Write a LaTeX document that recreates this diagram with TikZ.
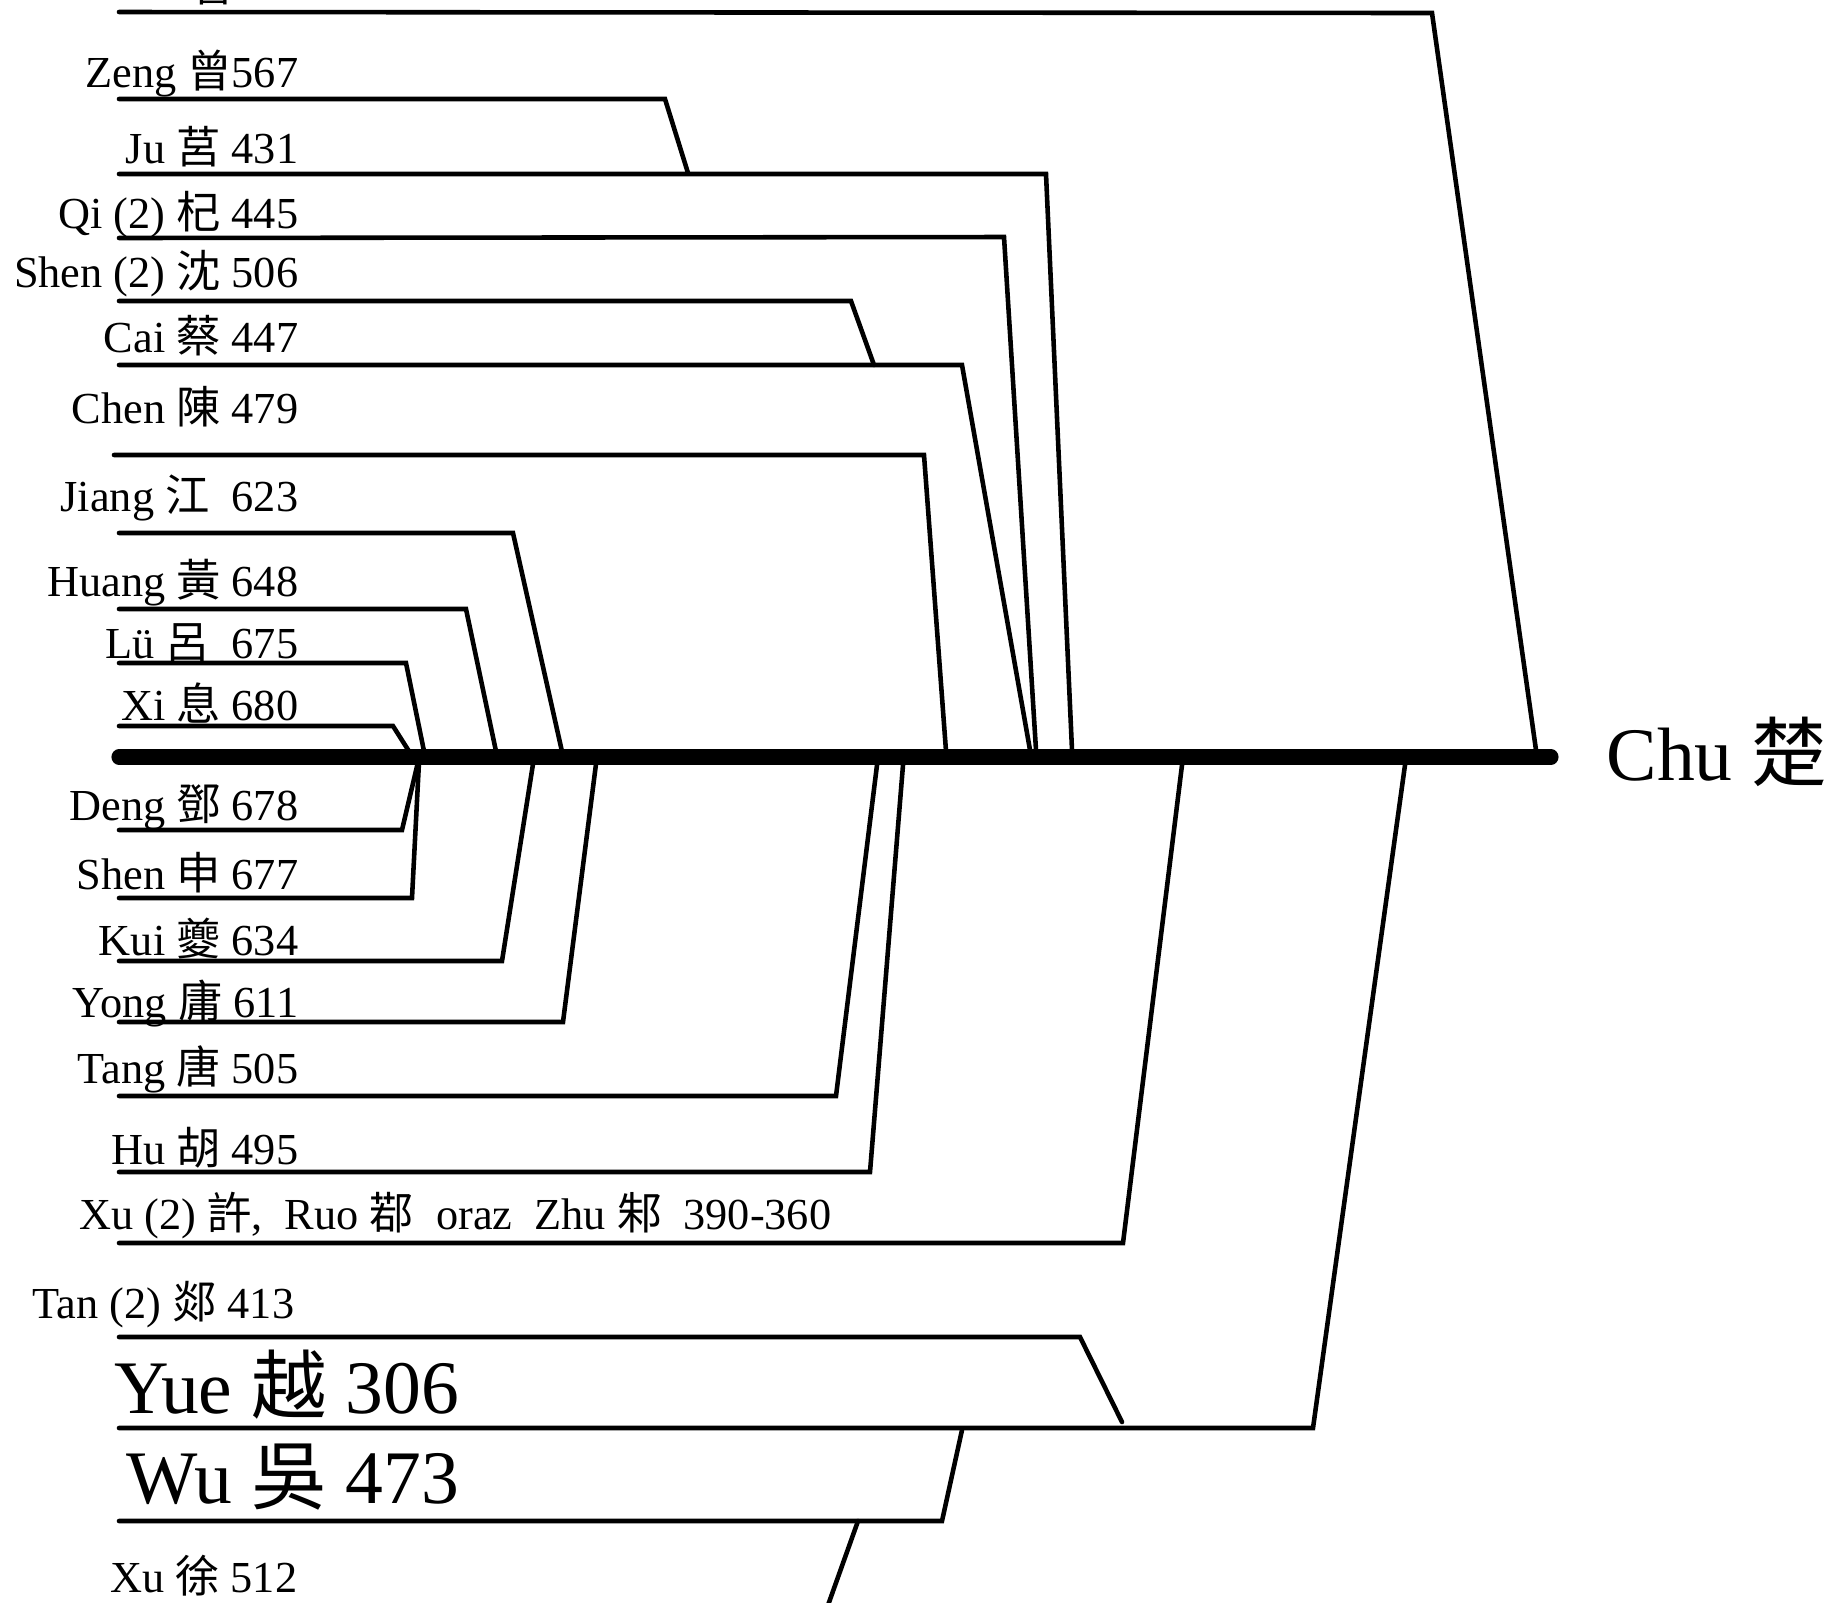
\documentclass[tikz,border=0pt]{standalone}
\usepackage{fontspec}
\setmainfont{Liberation Serif}
\newfontfamily\cjkfont{Noto Sans CJK TC}
\newcommand\zhc[1]{{\cjkfont #1}}
\begin{document}
\begin{tikzpicture}[x=0.01cm,y=-0.01cm,
  branch/.style={line width=1.3pt, line cap=round, line join=miter},
  trunkline/.style={line width=4.3pt, line cap=round},
  lbl/.style={font=\fontsize{12.6}{15}\selectfont, inner sep=0pt, anchor=base east},
  biglbl/.style={font=\fontsize{21.5}{26}\selectfont, inner sep=0pt, anchor=base east}]
\useasboundingbox (0,0) rectangle (1827,1602);
\clip (0,0) rectangle (1827,1602);

% trunk
\coordinate (trL) at (119,757);
\coordinate (trR) at (1551,757);
\draw[trunkline] (trL) -- (trR);
\node[biglbl, anchor=base west] (chu) at (1606,780) {Chu \zhc{楚}};

% labels
\node[lbl, anchor=base west] (frag) at (191,1) {\zhc{魯}};
\node[lbl] (zeng) at (299,87) {Zeng \zhc{曾}567};
\node[lbl] (ju) at (299,163) {Ju \zhc{莒} 431};
\node[lbl] (qi) at (299,228) {Qi (2) \zhc{杞} 445};
\node[lbl] (shenb) at (299,287) {Shen (2) \zhc{沈} 506};
\node[lbl] (cai) at (299,352) {Cai \zhc{蔡} 447};
\node[lbl] (chen) at (299,423) {Chen \zhc{陳} 479};
\node[lbl] (jiang) at (299,511) {Jiang \zhc{江}\ \ 623};
\node[lbl] (huang) at (299,596) {Huang \zhc{黃} 648};
\node[lbl] (lu) at (299,658) {Lü \zhc{呂}\ \ 675};
\node[lbl] (xi) at (299,720) {Xi \zhc{息} 680};
\node[lbl] (deng) at (299,820) {Deng \zhc{鄧} 678};
\node[lbl] (shen) at (299,889) {Shen \zhc{申} 677};
\node[lbl] (kui) at (299,955) {Kui \zhc{夔} 634};
\node[lbl] (yong) at (299,1017) {Yong \zhc{庸} 611};
\node[lbl] (tang) at (299,1083) {Tang \zhc{唐} 505};
\node[lbl] (hu) at (299,1164) {Hu \zhc{胡} 495};
\node[lbl] (xub) at (832,1229) {Xu (2) \zhc{許},\ \ Ruo \zhc{鄀}\ \ oraz\ \ Zhu \zhc{邾}\ \ 390-360};
\node[lbl] (tan) at (295,1318) {Tan (2) \zhc{郯} 413};
\node[biglbl] (yue) at (460,1413) {Yue \zhc{越} 306};
\node[biglbl] (wu) at (460,1503) {Wu \zhc{吳} 473};
\node[lbl] (xu) at (298,1592) {Xu \zhc{徐} 512};

% connector points
\coordinate (topS) at (119,12);   \coordinate (topC) at (1432,13);  \coordinate (topT) at (1536,750);
\coordinate (zengS) at (119,99);  \coordinate (zengC) at (665,99);  \coordinate (zengT) at (688,173);
\coordinate (juS) at (119,174);   \coordinate (juC) at (1046,174);  \coordinate (juT) at (1072,750);
\coordinate (qiS) at (119,238);   \coordinate (qiC) at (1004,237);  \coordinate (qiT) at (1036,750);
\coordinate (shenbS) at (119,301);\coordinate (shenbC) at (851,301);\coordinate (shenbT) at (874,365);
\coordinate (caiS) at (119,365);  \coordinate (caiC) at (962,365);  \coordinate (caiT) at (1030,750);
\coordinate (chenS) at (114,455); \coordinate (chenC) at (924,455); \coordinate (chenT) at (946,751);
\coordinate (jiangS) at (119,533);\coordinate (jiangC) at (513,533);\coordinate (jiangT) at (563,756);
\coordinate (huangS) at (119,609);\coordinate (huangC) at (466,609);\coordinate (huangT) at (497,756);
\coordinate (luS) at (119,663);   \coordinate (luC) at (406,663);   \coordinate (luT) at (425,756);
\coordinate (xiS) at (119,726);   \coordinate (xiC) at (393,726);   \coordinate (xiT) at (412,756);
\coordinate (dengS) at (119,830); \coordinate (dengC) at (402,830); \coordinate (dengT) at (418,762);
\coordinate (shenS) at (119,898); \coordinate (shenC) at (412,898); \coordinate (shenT) at (419,762);
\coordinate (kuiS) at (119,961);  \coordinate (kuiC) at (502,961);  \coordinate (kuiT) at (533,764);
\coordinate (yongS) at (119,1022);\coordinate (yongC) at (563,1022);\coordinate (yongT) at (596,764);
\coordinate (tangS) at (119,1096);\coordinate (tangC) at (836,1096);\coordinate (tangT) at (877,765);
\coordinate (huS) at (119,1172);  \coordinate (huC) at (870,1172);  \coordinate (huT) at (903,765);
\coordinate (xubS) at (119,1243); \coordinate (xubC) at (1123,1243);\coordinate (xubT) at (1182,765);
\coordinate (tanS) at (119,1337); \coordinate (tanC) at (1080,1337);\coordinate (tanT) at (1122,1422);
\coordinate (yueS) at (119,1428); \coordinate (yueC) at (1313,1428);\coordinate (yueT) at (1405,765);
\coordinate (wuS) at (119,1521);  \coordinate (wuC) at (942,1521);  \coordinate (wuT) at (962,1430);
\coordinate (xuT) at (858,1521);  \coordinate (xuE) at (822,1622);

% connectors
\draw[branch] (topS) -- (topC) -- (topT);
\draw[branch] (zengS) -- (zengC) -- (zengT);
\draw[branch] (juS) -- (juC) -- (juT);
\draw[branch] (qiS) -- (qiC) -- (qiT);
\draw[branch] (shenbS) -- (shenbC) -- (shenbT);
\draw[branch] (caiS) -- (caiC) -- (caiT);
\draw[branch] (chenS) -- (chenC) -- (chenT);
\draw[branch] (jiangS) -- (jiangC) -- (jiangT);
\draw[branch] (huangS) -- (huangC) -- (huangT);
\draw[branch] (luS) -- (luC) -- (luT);
\draw[branch] (xiS) -- (xiC) -- (xiT);
\draw[branch] (dengS) -- (dengC) -- (dengT);
\draw[branch] (shenS) -- (shenC) -- (shenT);
\draw[branch] (kuiS) -- (kuiC) -- (kuiT);
\draw[branch] (yongS) -- (yongC) -- (yongT);
\draw[branch] (tangS) -- (tangC) -- (tangT);
\draw[branch] (huS) -- (huC) -- (huT);
\draw[branch] (xubS) -- (xubC) -- (xubT);
\draw[branch] (tanS) -- (tanC) -- (tanT);
\draw[branch] (yueS) -- (yueC) -- (yueT);
\draw[branch] (wuS) -- (wuC) -- (wuT);
\draw[branch] (xuT) -- (xuE);
\end{tikzpicture}
\end{document}
